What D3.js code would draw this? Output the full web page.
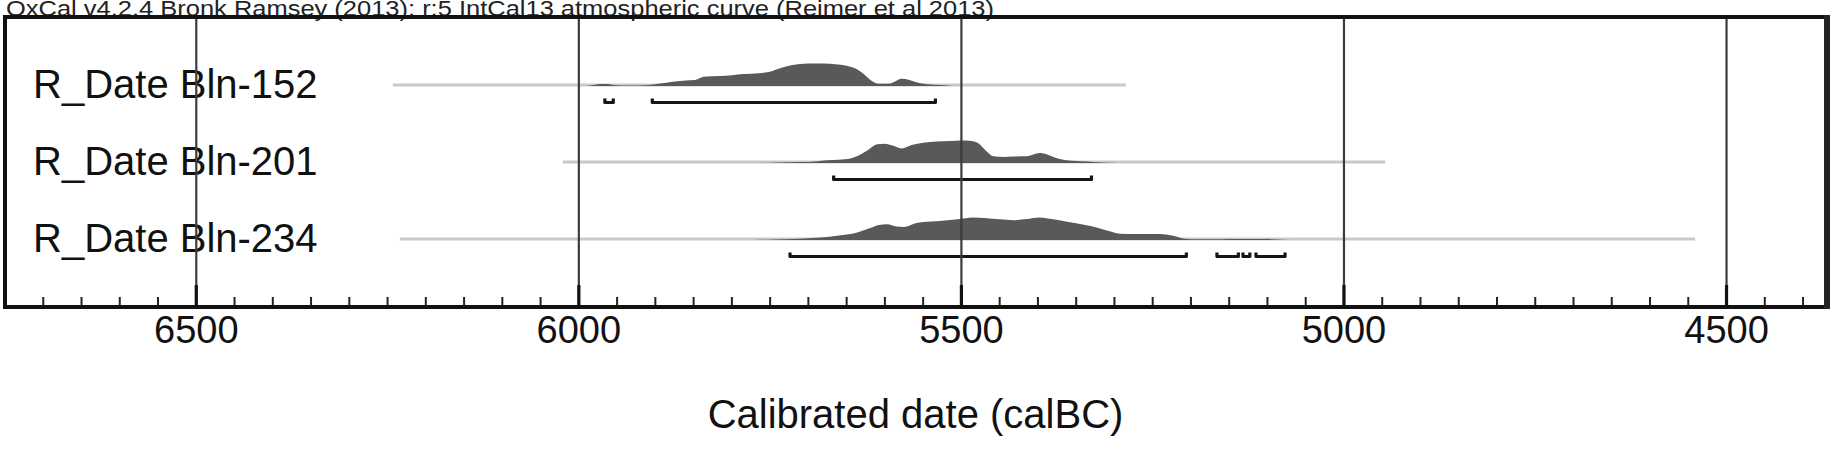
<!DOCTYPE html>
<html><head><meta charset="utf-8">
<script src="https://cdn.jsdelivr.net/npm/d3@7"></script>
<style>html,body{margin:0;padding:0;background:#fff;overflow:hidden}</style>
</head><body>
<svg id="c" width="1845" height="465" xmlns="http://www.w3.org/2000/svg"></svg>
<script>
// ---- data ----
const title = "OxCal v4.2.4 Bronk Ramsey (2013); r:5 IntCal13 atmospheric curve (Reimer et al 2013)";
const xTitle = "Calibrated date (calBC)";
const samples = ["R_Date Bln-152", "R_Date Bln-201", "R_Date Bln-234"];
const majorTicks = [6500, 6000, 5500, 5000, 4500];
const tickLabels = ["6500", "6000", "5500", "5000", "4500"];

// probability density [year calBC, relative probability]
const dens152 = [[5990,0],[5980,0.05],[5972,0.09],[5962,0.09],[5952,0.03],[5935,0.02],[5915,0.03],[5900,0.08],[5888,0.13],[5875,0.2],[5860,0.25],[5848,0.27],[5840,0.38],[5834,0.42],[5815,0.44],[5800,0.48],[5785,0.53],[5765,0.57],[5752,0.62],[5740,0.76],[5728,0.88],[5714,0.97],[5700,1.0],[5680,1.0],[5665,0.97],[5650,0.9],[5640,0.8],[5628,0.55],[5618,0.25],[5608,0.1],[5595,0.1],[5588,0.18],[5578,0.32],[5568,0.27],[5558,0.16],[5545,0.08],[5530,0.04],[5515,0.015],[5500,0]];
const dens201 = [[5765,0],[5740,0.02],[5710,0.04],[5690,0.07],[5676,0.12],[5660,0.15],[5645,0.2],[5635,0.32],[5622,0.58],[5610,0.83],[5600,0.86],[5590,0.78],[5578,0.65],[5565,0.8],[5550,0.9],[5532,0.96],[5515,0.98],[5500,1.0],[5487,0.98],[5478,0.88],[5468,0.55],[5458,0.3],[5445,0.27],[5432,0.29],[5414,0.3],[5398,0.44],[5388,0.38],[5378,0.25],[5365,0.13],[5345,0.08],[5328,0.05],[5305,0.015],[5285,0]];
const dens234 = [[5770,0],[5745,0.02],[5720,0.04],[5690,0.1],[5670,0.16],[5650,0.24],[5635,0.35],[5620,0.52],[5608,0.67],[5597,0.7],[5585,0.6],[5575,0.58],[5560,0.75],[5540,0.82],[5525,0.86],[5505,0.92],[5485,1.0],[5470,0.98],[5450,0.92],[5432,0.88],[5415,0.93],[5398,1.0],[5380,0.92],[5360,0.8],[5340,0.68],[5322,0.55],[5305,0.38],[5292,0.28],[5270,0.27],[5240,0.27],[5225,0.2],[5212,0.08],[5200,0.03],[5175,0.03],[5150,0.05],[5125,0.05],[5100,0.04],[5080,0.015],[5060,0]];

// 95.4% probability ranges [from, to] calBC
const ranges152 = [[5966,5955],[5904,5534]];
const ranges201 = [[5667,5330]];
const ranges234 = [[5724,5206],[5166,5138],[5132,5123],[5115,5077]];

// full extent of each calibrated distribution
const extent152 = [6243,5285];
const extent201 = [6021,4946];
const extent234 = [6234,4541];

const densities = [dens152, dens201, dens234];
const rangeSets = [ranges152, ranges201, ranges234];
const extents = [extent152, extent201, extent234];

// ---- drawing ----
const svg = d3.select("#c");
const W = 1845, H = 465;
const x = d3.scaleLinear().domain([6750, 4370]).range([5, 1826]);
const row = d3.scalePoint().domain(samples).range([85, 239]);
const h = d3.scaleLinear().domain([0, 1]).range([0, 22.5]);
const frameTop = 17, frameBottom = 307;
const FONT = "'Liberation Sans', Arial, Helvetica, sans-serif";

svg.append("rect").attr("width", W).attr("height", H).attr("fill", "#fff");

// title
svg.append("text").attr("x", 6).attr("y", 15.5)
  .attr("font-family", FONT).attr("font-size", 22).attr("fill", "#222")
  .attr("textLength", 988).attr("lengthAdjust", "spacingAndGlyphs")
  .text(title);

samples.forEach((s, i) => {
  const y0 = row(s);
  const g = svg.append("g");
  // extent line
  g.append("line")
    .attr("x1", x(extents[i][0])).attr("x2", x(extents[i][1]))
    .attr("y1", y0).attr("y2", y0)
    .attr("stroke", "#c9c9c9").attr("stroke-width", 3);
  // density
  const area = d3.area()
    .x(d => x(d[0]))
    .y0(y0 + 1)
    .y1(d => y0 + 1 - h(d[1]))
    .curve(d3.curveMonotoneX);
  g.append("path").datum(densities[i]).attr("d", area).attr("fill", "#595959");
  // ranges
  rangeSets[i].forEach(r => {
    const yb = y0 + 17.5;
    const x1 = x(r[0]), x2 = x(r[1]);
    g.append("path")
      .attr("d", `M${x1},${yb - 4}L${x1},${yb}L${x2},${yb}L${x2},${yb - 4}`)
      .attr("fill", "none").attr("stroke", "#151515").attr("stroke-width", 3.2)
      .attr("stroke-linejoin", "round");
  });
  // label
  svg.append("text").attr("x", 33).attr("y", y0 + 13)
    .attr("font-family", FONT).attr("font-size", 40).attr("fill", "#111")
    .text(s);
});

// gridlines
svg.selectAll("line.grid").data(majorTicks).enter().append("line")
  .attr("class", "grid")
  .attr("x1", d => x(d)).attr("x2", d => x(d))
  .attr("y1", frameTop).attr("y2", frameBottom)
  .attr("stroke", "#3c3c3c").attr("stroke-width", 2.2);

// minor ticks every 50 years
const minor = d3.range(6700, 4370, -50).filter(d => d % 500 !== 0);
svg.selectAll("line.minor").data(minor).enter().append("line")
  .attr("x1", d => x(d)).attr("x2", d => x(d))
  .attr("y1", frameBottom - 10).attr("y2", frameBottom)
  .attr("stroke", "#222").attr("stroke-width", 2);
svg.selectAll("line.major").data(majorTicks).enter().append("line")
  .attr("x1", d => x(d)).attr("x2", d => x(d))
  .attr("y1", frameBottom - 22).attr("y2", frameBottom)
  .attr("stroke", "#111").attr("stroke-width", 3.2);

// frame
svg.append("rect").attr("x", 5).attr("y", frameTop)
  .attr("width", x.range()[1] - 5).attr("height", frameBottom - frameTop)
  .attr("fill", "none").attr("stroke", "#111").attr("stroke-width", 4);
svg.append("line").attr("x1", x.range()[1] + 1).attr("x2", x.range()[1] + 1)
  .attr("y1", frameTop - 2).attr("y2", frameBottom + 2)
  .attr("stroke", "#222").attr("stroke-width", 6);

// tick labels
svg.selectAll("text.tl").data(majorTicks).enter().append("text")
  .attr("x", d => x(d)).attr("y", 343)
  .attr("text-anchor", "middle")
  .attr("font-family", FONT).attr("font-size", 38).attr("fill", "#111")
  .text((d, i) => tickLabels[i]);

// axis title
svg.append("text").attr("x", (5 + x.range()[1]) / 2).attr("y", 428)
  .attr("text-anchor", "middle")
  .attr("font-family", FONT).attr("font-size", 40).attr("fill", "#111")
  .text(xTitle);
</script>
</body></html>
